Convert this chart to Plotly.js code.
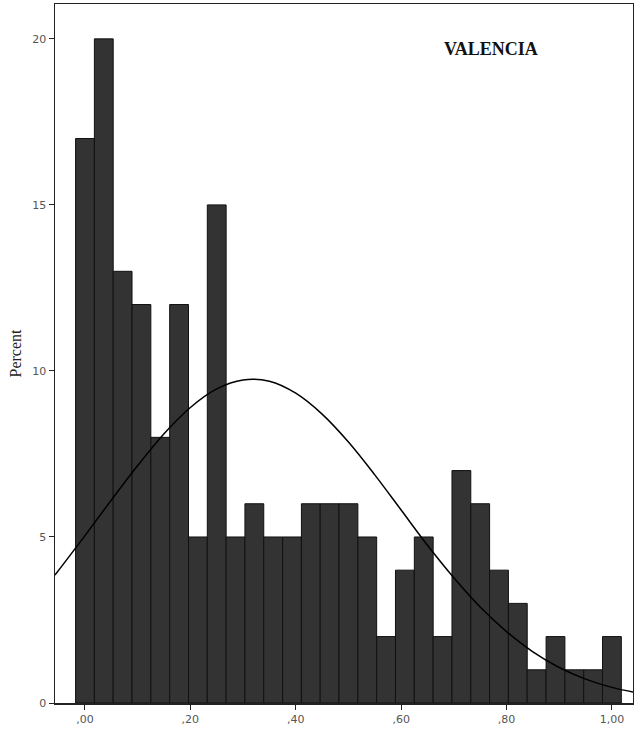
<!DOCTYPE html>
<html>
<head>
<meta charset="utf-8">
<script src="https://cdn.plot.ly/plotly-3.0.1.min.js"></script>
<style>html,body{margin:0;padding:0;background:#fff;}#chart{width:634px;height:731px;}</style>
</head>
<body>
<div id="chart"></div>
<script>
// Histogram bin centres (bin width 1/28)
const binCenters = [0, 0.0357, 0.0714, 0.1071, 0.1429, 0.1786, 0.2143, 0.25, 0.2857, 0.3214,
  0.3571, 0.3929, 0.4286, 0.4643, 0.5, 0.5357, 0.5714, 0.6071, 0.6429, 0.6786,
  0.7143, 0.75, 0.7857, 0.8214, 0.8571, 0.8929, 0.9286, 0.9643, 1.0];
const percentValues = [17, 20, 13, 12, 8, 12, 5, 15, 5, 6,
  5, 5, 6, 6, 6, 5, 2, 4, 5, 2,
  7, 6, 4, 3, 1, 2, 1, 1, 2];
// Normal curve, values
const curveX = [-0.057, 0, 0.05, 0.1, 0.15, 0.2, 0.25, 0.3, 0.35, 0.4, 0.45, 0.5, 0.55,
  0.6, 0.65, 0.7, 0.75, 0.8, 0.85, 0.9, 0.95, 1.0, 1.04];
const curveY = [3.85, 5.04, 6.11, 7.15, 8.11, 8.90, 9.46, 9.73, 9.69, 9.33, 8.70, 7.86, 6.87,
  5.81, 4.75, 3.77, 2.89, 2.15, 1.54, 1.07, 0.72, 0.47, 0.33];
const xTickVals = [0, 0.2, 0.4, 0.6, 0.8, 1.0];
const xTickText = [',00', ',20', ',40', ',60', ',80', '1,00'];
const yTickVals = [0, 5, 10, 15, 20];

const data = [
  {
    type: 'bar', x: binCenters, y: percentValues, width: 1/28,
    marker: {color: '#333333', line: {color: '#111111', width: 1}},
    hoverinfo: 'x+y'
  },
  {
    type: 'scatter', mode: 'lines', x: curveX, y: curveY,
    line: {color: '#000000', width: 1.5, shape: 'spline'},
    hoverinfo: 'skip'
  }
];

const layout = {
  width: 634, height: 731,
  margin: {l: 55, r: 1, t: 4, b: 28},
  paper_bgcolor: '#ffffff', plot_bgcolor: '#ffffff',
  showlegend: false,
  bargap: 0,
  xaxis: {
    range: [-0.0569, 1.04],
    tickmode: 'array', tickvals: xTickVals, ticktext: xTickText,
    ticks: 'outside', ticklen: 5, tickcolor: '#222', tickwidth: 1,
    tickfont: {family: 'DejaVu Sans', size: 11, color: '#555'},
    showgrid: false, zeroline: false,
    showline: true, linecolor: '#222', linewidth: 1.5, mirror: true
  },
  yaxis: {
    range: [0, 21.05],
    tickmode: 'array', tickvals: yTickVals,
    ticks: 'outside', ticklen: 5, tickcolor: '#222', tickwidth: 1,
    tickfont: {family: 'DejaVu Sans', size: 11, color: '#555'},
    showgrid: false, zeroline: false,
    showline: true, linecolor: '#222', linewidth: 1.5, mirror: true,
    title: {text: 'Percent', font: {family: 'Liberation Serif', size: 16, color: '#222'}, standoff: 6}
  },
  annotations: [{
    text: '<b>VALENCIA</b>', xref: 'paper', yref: 'paper',
    x: 0.755, y: 0.935, xanchor: 'center', yanchor: 'middle', showarrow: false,
    font: {family: 'Liberation Serif', size: 18, color: '#111'}
  }]
};

Plotly.newPlot('chart', data, layout, {displayModeBar: false, staticPlot: true});
</script>
</body>
</html>
